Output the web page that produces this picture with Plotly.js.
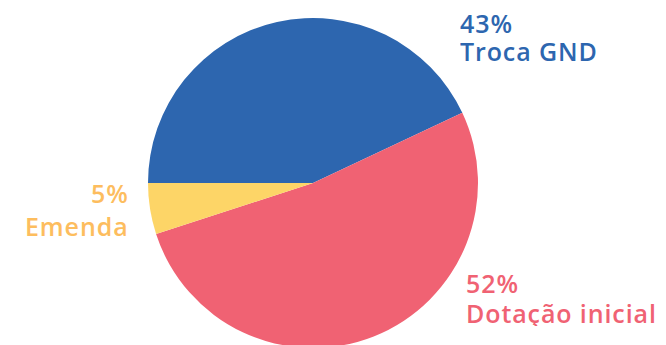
<!DOCTYPE html>
<html><head><meta charset="utf-8">
<script src="https://cdn.plot.ly/plotly-3.0.1.min.js"></script>
<style>html,body{margin:0;padding:0;overflow:hidden;background:#fff}
.annotation-text{letter-spacing:0.9px}</style>
</head><body>
<div id="chart" style="width:666px;height:348px"></div>
<script>
const categories = ["Troca GND", "Dotação inicial", "Emenda"];
const values = [43, 52, 5];
const sliceColors = ["#2D66AF", "#F06273", "#FDD567"];
const textColors = ["#2D66AF", "#F06273", "#FDBD5E"];

const W = 666, H = 348, T = 18;
const px = x => x / W;
const py = y => (H - y) / (H - T);

// label placement (pixel centres of the percent line and name line)
const place = [
  {x: 459, xa: "left", yp: 22.5, yn: 51},
  {x: 465, xa: "left", yp: 282.5, yn: 313},
  {x: 130, xa: "right", yp: 192.5, yn: 225.5}
];
const total = values.reduce((a, b) => a + b, 0);
const annotations = [];
categories.forEach((c, i) => {
  const p = place[i];
  const f = {family: "Open Sans", size: 25, color: textColors[i], weight: 600};
  annotations.push({xref: "paper", yref: "paper", x: px(p.x), y: py(p.yp), xanchor: p.xa, yanchor: "middle",
    height: 26, borderpad: 0, text: Math.round(values[i] / total * 100) + "%", showarrow: false, font: f});
  annotations.push({xref: "paper", yref: "paper", x: px(p.x), y: py(p.yn), xanchor: p.xa, yanchor: "middle",
    height: 26, borderpad: 0, text: c, showarrow: false, font: f});
});

Plotly.newPlot("chart", [{
  type: "pie",
  labels: categories,
  values: values,
  marker: {colors: sliceColors, line: {width: 0}},
  sort: false,
  direction: "clockwise",
  rotation: 270,
  textinfo: "none",
  hoverinfo: "none",
  domain: {x: [148 / W, 478 / W], y: [0, 1]}
}], {
  width: W, height: H,
  margin: {l: 0, r: 0, t: T, b: 0},
  showlegend: false,
  paper_bgcolor: "#fff",
  annotations: annotations
}, {staticPlot: true});
</script>
</body></html>
